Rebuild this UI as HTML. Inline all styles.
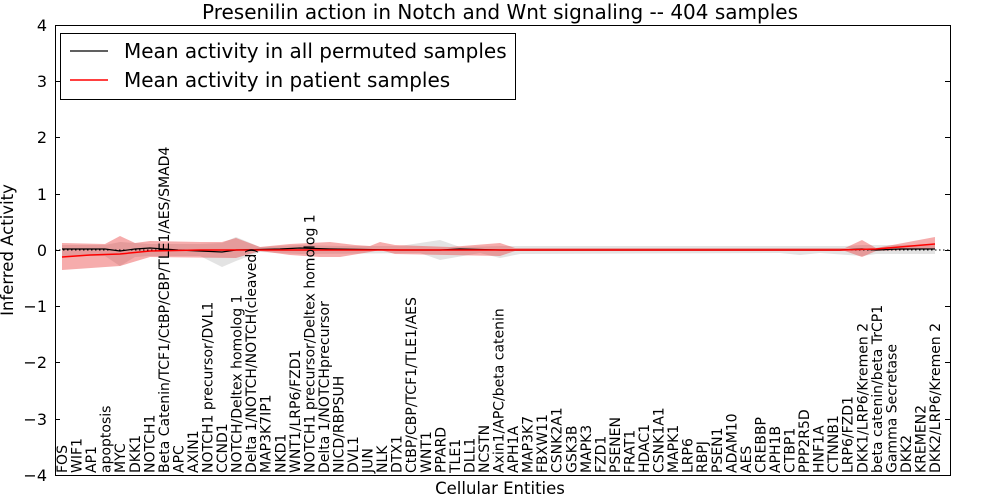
<!DOCTYPE html>
<html><head><meta charset="utf-8"><style>
html,body{margin:0;padding:0;background:#fff}
svg{display:block;font-family:"DejaVu Sans","Liberation Sans",sans-serif}
</style></head><body>
<svg width="1000" height="500" viewBox="0 0 1000 500" xmlns="http://www.w3.org/2000/svg">
<rect width="1000" height="500" fill="#fff"/>
<text x="500" y="19" font-size="20" text-anchor="middle">Presenilin action in Notch and Wnt signaling -- 404 samples</text>
<polygon fill="#c8c8c8" fill-opacity="0.5" points="62,245 105,245 120,242 150,244 200,244 222,243 236,237 260,247 300,245 340,246 400,246 440,240 460,247 500,246 600,246 800,246 845,246 862,245 935,245 935,254 876,254 862,256 820,253 800,255 780,253 520,254 500,258 480,253 440,260 420,253 300,254 260,252 236,261 222,267 200,256 150,256 135,257 120,266 105,256 62,256"/>
<polygon fill="#e83030" fill-opacity="0.4" points="62,243 105,244 120,236 135,243 150,241 200,242 222,242 236,238 260,247 290,244 330,242 355,245 370,246 380,242 395,245 450,247 500,243 515,248 845,248 862,240 876,248 935,237 935,249 876,251 862,257 845,251 515,251 500,256 395,254 380,250 370,252 340,257 320,257 290,255 260,251 236,258 150,257 120,266 62,270"/>
<line x1="55" y1="250" x2="950" y2="250" stroke="#000" stroke-width="1" stroke-dasharray="1.5,2.5"/>
<polyline fill="none" stroke="#000" stroke-width="1.2" points="62,249 105,249 120,251 135,249 150,248 178,250 222,252 236,250 280,249 300,248 330,249 400,250 440,250 460,249 500,250 840,250 862,249 876,250 900,249 935,249"/>
<polyline fill="none" stroke="#ff0000" stroke-width="1.5" points="62,257 90,255 120,254 150,251 200,250 840,250 876,249 935,244"/>
<rect x="55.5" y="25.5" width="895" height="450" fill="none" stroke="#000" stroke-width="1"/>
<g stroke="#000" stroke-width="1">
<line x1="55" y1="25.5" x2="60" y2="25.5"/><line x1="55" y1="81.5" x2="60" y2="81.5"/><line x1="55" y1="137.5" x2="60" y2="137.5"/><line x1="55" y1="194.5" x2="60" y2="194.5"/><line x1="55" y1="250.5" x2="60" y2="250.5"/><line x1="55" y1="306.5" x2="60" y2="306.5"/><line x1="55" y1="362.5" x2="60" y2="362.5"/><line x1="55" y1="419.5" x2="60" y2="419.5"/><line x1="55" y1="475.5" x2="60" y2="475.5"/>
<line x1="945" y1="25.5" x2="950" y2="25.5"/><line x1="945" y1="81.5" x2="950" y2="81.5"/><line x1="945" y1="137.5" x2="950" y2="137.5"/><line x1="945" y1="194.5" x2="950" y2="194.5"/><line x1="945" y1="250.5" x2="950" y2="250.5"/><line x1="945" y1="306.5" x2="950" y2="306.5"/><line x1="945" y1="362.5" x2="950" y2="362.5"/><line x1="945" y1="419.5" x2="950" y2="419.5"/><line x1="945" y1="475.5" x2="950" y2="475.5"/>
</g>
<g font-size="16" text-anchor="end">
<text x="47" y="31">4</text><text x="47" y="87">3</text><text x="47" y="143">2</text><text x="47" y="200">1</text><text x="47" y="256">0</text><text x="47" y="312">−1</text><text x="47" y="368">−2</text><text x="47" y="425">−3</text><text x="47" y="481">−4</text>
</g>
<text transform="translate(13,250) rotate(-90)" font-size="16.5" text-anchor="middle">Inferred Activity</text>
<text x="500" y="494" font-size="16.5" text-anchor="middle">Cellular Entities</text>
<rect x="60.5" y="33.5" width="455" height="66" fill="#fff" stroke="#000"/>
<line x1="70" y1="51" x2="108" y2="51" stroke="#000" stroke-width="1.2"/>
<line x1="70" y1="80" x2="108" y2="80" stroke="#ff0000" stroke-width="1.5"/>
<text x="124" y="58" font-size="20">Mean activity in all permuted samples</text>
<text x="124" y="87" font-size="20">Mean activity in patient samples</text>
<g font-size="14">
<text transform="translate(67,473) rotate(-90)">FOS</text>
<text transform="translate(81.6,473) rotate(-90)">WIF1</text>
<text transform="translate(96.1,473) rotate(-90)">AP1</text>
<text transform="translate(110.7,473) rotate(-90)">apoptosis</text>
<text transform="translate(125.2,473) rotate(-90)">MYC</text>
<text transform="translate(139.8,473) rotate(-90)">DKK1</text>
<text transform="translate(154.3,473) rotate(-90)">NOTCH1</text>
<text transform="translate(168.9,473) rotate(-90)">Beta Catenin/TCF1/CtBP/CBP/TLE1/AES/SMAD4</text>
<text transform="translate(183.4,473) rotate(-90)">APC</text>
<text transform="translate(198,473) rotate(-90)">AXIN1</text>
<text transform="translate(212.5,473) rotate(-90)">NOTCH1 precursor/DVL1</text>
<text transform="translate(227.1,473) rotate(-90)">CCND1</text>
<text transform="translate(241.6,473) rotate(-90)">NOTCH/Deltex homolog 1</text>
<text transform="translate(256.2,473) rotate(-90)">Delta 1/NOTCH/NOTCH(cleaved)</text>
<text transform="translate(270.7,473) rotate(-90)">MAP3K7IP1</text>
<text transform="translate(285.3,473) rotate(-90)">NKD1</text>
<text transform="translate(299.8,473) rotate(-90)">WNT1/LRP6/FZD1</text>
<text transform="translate(314.4,473) rotate(-90)">NOTCH1 precursor/Deltex homolog 1</text>
<text transform="translate(328.9,473) rotate(-90)">Delta 1/NOTCHprecursor</text>
<text transform="translate(343.5,473) rotate(-90)">NICD/RBPSUH</text>
<text transform="translate(358,473) rotate(-90)">DVL1</text>
<text transform="translate(372.6,473) rotate(-90)">JUN</text>
<text transform="translate(387.1,473) rotate(-90)">NLK</text>
<text transform="translate(401.7,473) rotate(-90)">DTX1</text>
<text transform="translate(416.2,473) rotate(-90)">CtBP/CBP/TCF1/TLE1/AES</text>
<text transform="translate(430.8,473) rotate(-90)">WNT1</text>
<text transform="translate(445.3,473) rotate(-90)">PPARD</text>
<text transform="translate(459.9,473) rotate(-90)">TLE1</text>
<text transform="translate(474.4,473) rotate(-90)">DLL1</text>
<text transform="translate(489,473) rotate(-90)">NCSTN</text>
<text transform="translate(503.5,473) rotate(-90)">Axin1/APC/beta catenin</text>
<text transform="translate(518.1,473) rotate(-90)">APH1A</text>
<text transform="translate(532.6,473) rotate(-90)">MAP3K7</text>
<text transform="translate(547.2,473) rotate(-90)">FBXW11</text>
<text transform="translate(561.7,473) rotate(-90)">CSNK2A1</text>
<text transform="translate(576.3,473) rotate(-90)">GSK3B</text>
<text transform="translate(590.8,473) rotate(-90)">MAPK3</text>
<text transform="translate(605.4,473) rotate(-90)">FZD1</text>
<text transform="translate(619.9,473) rotate(-90)">PSENEN</text>
<text transform="translate(634.5,473) rotate(-90)">FRAT1</text>
<text transform="translate(649,473) rotate(-90)">HDAC1</text>
<text transform="translate(663.6,473) rotate(-90)">CSNK1A1</text>
<text transform="translate(678.1,473) rotate(-90)">MAPK1</text>
<text transform="translate(692.7,473) rotate(-90)">LRP6</text>
<text transform="translate(707.2,473) rotate(-90)">RBPJ</text>
<text transform="translate(721.8,473) rotate(-90)">PSEN1</text>
<text transform="translate(736.3,473) rotate(-90)">ADAM10</text>
<text transform="translate(750.9,473) rotate(-90)">AES</text>
<text transform="translate(765.4,473) rotate(-90)">CREBBP</text>
<text transform="translate(780,473) rotate(-90)">APH1B</text>
<text transform="translate(794.5,473) rotate(-90)">CTBP1</text>
<text transform="translate(809.1,473) rotate(-90)">PPP2R5D</text>
<text transform="translate(823.6,473) rotate(-90)">HNF1A</text>
<text transform="translate(838.2,473) rotate(-90)">CTNNB1</text>
<text transform="translate(852.7,473) rotate(-90)">LRP6/FZD1</text>
<text transform="translate(867.3,473) rotate(-90)">DKK1/LRP6/Kremen 2</text>
<text transform="translate(881.8,473) rotate(-90)">beta catenin/beta TrCP1</text>
<text transform="translate(896.4,473) rotate(-90)">Gamma Secretase</text>
<text transform="translate(910.9,473) rotate(-90)">DKK2</text>
<text transform="translate(925.5,473) rotate(-90)">KREMEN2</text>
<text transform="translate(940,473) rotate(-90)">DKK2/LRP6/Kremen 2</text>
</g>
</svg>
</body></html>
